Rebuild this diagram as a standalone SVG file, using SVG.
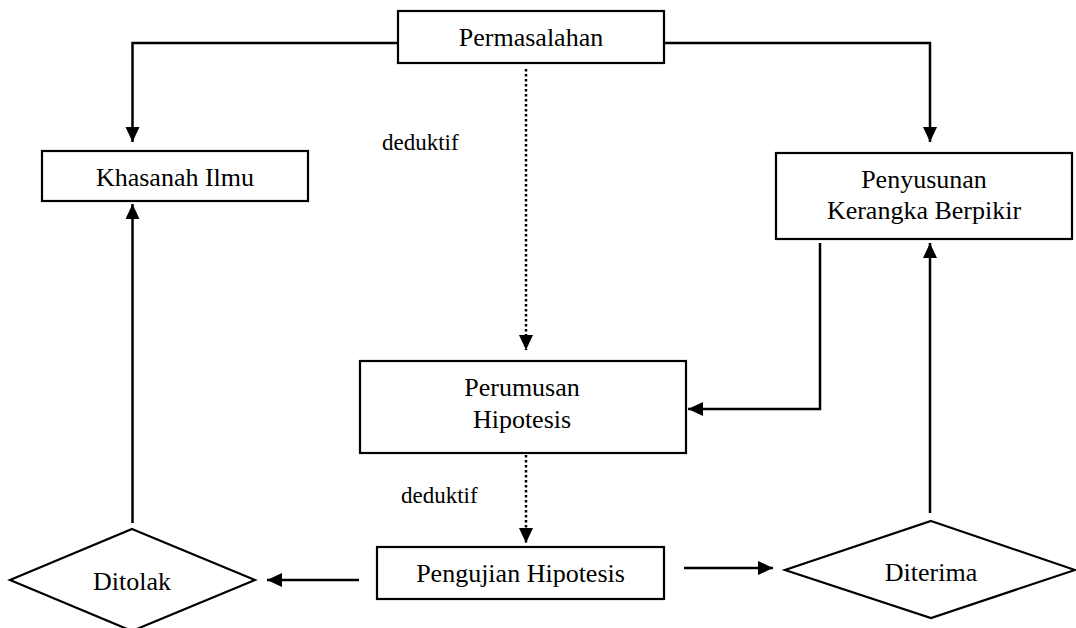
<svg xmlns="http://www.w3.org/2000/svg" width="1076" height="628" viewBox="0 0 1076 628">
  <style>
    .box { fill: #ffffff; stroke: #000000; stroke-width: 2.2; }
    .lbl { font-size: 26px; fill: #000000; text-anchor: middle; }
    .small { font-size: 23px; fill: #000000; }
    .conn { fill: none; stroke: #000000; stroke-width: 2.5; }
    .dot { fill: none; stroke: #000000; stroke-width: 2.5; stroke-dasharray: 2.5 2.5; }
  </style>
  <defs>
    <marker id="arr" markerUnits="userSpaceOnUse" markerWidth="16" markerHeight="15" refX="15" refY="7" orient="auto">
      <path d="M0,0 L15,7 L0,14 z" fill="#000000"/>
    </marker>
  </defs>
  <rect width="1076" height="628" fill="#ffffff"/>

  <g id="connectors">
    <polyline class="conn" points="398,43 132.5,43 132.5,142" marker-end="url(#arr)"/>
    <polyline class="conn" points="664,43 930,43 930,142" marker-end="url(#arr)"/>
    <line class="dot" x1="526" y1="69" x2="526" y2="350" marker-end="url(#arr)"/>
    <polyline class="conn" points="820,243 820,409 688,409" marker-end="url(#arr)"/>
    <line class="dot" x1="526" y1="455" x2="526" y2="543" marker-end="url(#arr)"/>
    <line class="conn" x1="359" y1="580" x2="267" y2="580" marker-end="url(#arr)"/>
    <line class="conn" x1="684" y1="568" x2="773" y2="568" marker-end="url(#arr)"/>
    <line class="conn" x1="132.5" y1="523" x2="132.5" y2="204" marker-end="url(#arr)"/>
    <line class="conn" x1="930" y1="513" x2="930" y2="243" marker-end="url(#arr)"/>
  </g>

  <g id="labels" font-family="'Liberation Serif', 'DejaVu Serif', serif">
    <text class="small" x="382" y="150">deduktif</text>
    <text class="small" x="401" y="503">deduktif</text>
  </g>

  <g font-family="'Liberation Serif', 'DejaVu Serif', serif">
    <g id="permasalahan">
      <rect class="box" x="398" y="11" width="266" height="52"/>
      <text class="lbl" x="531" y="46">Permasalahan</text>
    </g>

    <g id="khasanah">
      <rect class="box" x="42" y="151" width="266" height="50"/>
      <text class="lbl" x="175" y="186">Khasanah Ilmu</text>
    </g>

    <g id="penyusunan">
      <rect class="box" x="776" y="153" width="296" height="86"/>
      <text class="lbl" x="924" y="188">Penyusunan</text>
      <text class="lbl" x="924" y="219">Kerangka Berpikir</text>
    </g>

    <g id="perumusan">
      <rect class="box" x="360" y="361" width="326" height="92"/>
      <text class="lbl" x="522" y="396">Perumusan</text>
      <text class="lbl" x="522" y="428">Hipotesis</text>
    </g>

    <g id="pengujian">
      <rect class="box" x="377" y="547" width="287" height="52"/>
      <text class="lbl" x="520.5" y="582">Pengujian Hipotesis</text>
    </g>

    <g id="ditolak">
      <polygon class="box" points="132,529 255,580 132,631 10,580"/>
      <text class="lbl" x="132" y="590">Ditolak</text>
    </g>

    <g id="diterima">
      <polygon class="box" points="931,521 1075,570 931,618 785,570"/>
      <text class="lbl" x="931" y="581">Diterima</text>
    </g>
  </g>
</svg>
